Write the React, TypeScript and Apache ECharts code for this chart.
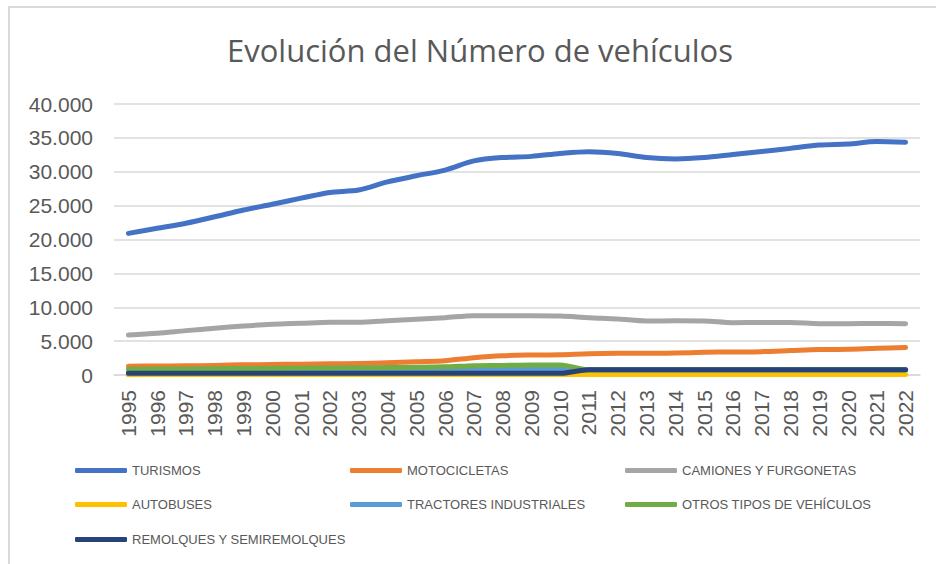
import React, { useEffect, useRef } from "react";
import * as echarts from "echarts";

const years = ["1995","1996","1997","1998","1999","2000","2001","2002","2003","2004","2005","2006","2007","2008","2009","2010","2011","2012","2013","2014","2015","2016","2017","2018","2019","2020","2021","2022"];
const yTicks = [0, 5000, 10000, 15000, 20000, 25000, 30000, 35000, 40000];

const turismos = [20900, 21650, 22400, 23350, 24350, 25200, 26100, 26950, 27300, 28500, 29400, 30250, 31600, 32100, 32270, 32700, 32950, 32700, 32100, 31900, 32100, 32550, 33000, 33450, 33950, 34100, 34450, 34350];
const motocicletas = [1300, 1320, 1350, 1420, 1500, 1550, 1600, 1650, 1700, 1800, 1950, 2100, 2550, 2850, 2950, 3000, 3150, 3200, 3200, 3250, 3350, 3400, 3450, 3600, 3750, 3800, 3950, 4050];
const camiones = [5900, 6150, 6550, 6900, 7230, 7480, 7630, 7780, 7780, 8020, 8220, 8460, 8760, 8760, 8760, 8710, 8460, 8270, 7970, 7990, 7970, 7720, 7750, 7750, 7570, 7570, 7600, 7570];
const autobuses = [55, 56, 57, 58, 58, 59, 60, 60, 60, 61, 62, 62, 63, 63, 62, 62, 61, 61, 60, 60, 60, 61, 62, 62, 63, 60, 60, 61];
const tractores = [450, 470, 490, 510, 530, 550, 570, 590, 600, 620, 650, 690, 760, 820, 850, 850, 770, 770, 770, 770, 770, 770, 770, 770, 770, 770, 770, 770];
const otros = [840, 870, 900, 930, 960, 990, 1020, 1050, 1070, 1100, 1130, 1200, 1380, 1420, 1480, 1480, 760, 760, 760, 760, 760, 760, 760, 760, 760, 760, 760, 760];
const remolques = [250, 250, 250, 250, 250, 250, 250, 250, 250, 250, 250, 250, 250, 250, 250, 250, 780, 780, 780, 780, 780, 780, 780, 780, 780, 780, 780, 780];

const seriesNames = ["TURISMOS", "MOTOCICLETAS", "CAMIONES Y FURGONETAS", "AUTOBUSES", "TRACTORES INDUSTRIALES", "OTROS TIPOS DE VEHÍCULOS", "REMOLQUES Y SEMIREMOLQUES"];
const seriesData = [turismos, motocicletas, camiones, autobuses, tractores, otros, remolques];
const colors = ["#4472C4", "#ED7D31", "#A5A5A5", "#FFC000", "#5B9BD5", "#70AD47", "#264478"];

const fmt = (v: number) => {
  if (v === 0) return "0";
  const s = String(Math.round(v));
  return s.replace(/\B(?=(\d{3})+(?!\d))/g, ".");
};

const FONT = "'Liberation Sans', Arial, sans-serif";
const TEXT = "#595959";
const legendCols = [75, 350, 625];
const legendRows = [464, 498, 533];

export default function App() {
  const ref = useRef<HTMLDivElement>(null);
  useEffect(() => {
    if (!ref.current) return;
    const chart = echarts.init(ref.current, null, { renderer: "svg" });
    const legends = seriesNames.map((name, i) => ({
      show: true,
      data: [name],
      left: legendCols[i % 3],
      top: legendRows[Math.floor(i / 3)],
      orient: "horizontal",
      icon: "roundRect",
      itemWidth: 52,
      itemHeight: 5,
      itemGap: 0,
      padding: 0,
      selectedMode: false,
      textStyle: { color: TEXT, fontSize: 13, fontFamily: FONT },
    }));
    chart.setOption({
      animation: false,
      backgroundColor: "#ffffff",
      color: colors,
      title: {
        text: "Evolución del Número de vehículos",
        left: 222,
        top: 29,
        textStyle: { color: TEXT, fontSize: 31, fontWeight: "normal", fontFamily: "'Open Sans', 'Liberation Sans', sans-serif" },
      },
      graphic: [
        {
          type: "rect",
          shape: { x: 9, y: 7, width: 1000, height: 1000 },
          style: { fill: "none", stroke: "#d9d9d9", lineWidth: 2 },
          silent: true,
        },
      ],
      legend: legends,
      grid: { left: 114, right: 16, top: 104, bottom: 189, containLabel: false },
      xAxis: {
        type: "category",
        data: years,
        boundaryGap: true,
        axisLine: { show: true, lineStyle: { color: "#d9d9d9", width: 1.5 } },
        axisTick: { show: false },
        axisLabel: { rotate: 90, interval: 0, margin: 15, color: TEXT, fontSize: 21, fontFamily: FONT },
      },
      yAxis: {
        type: "value",
        min: yTicks[0],
        max: yTicks[yTicks.length - 1],
        interval: 5000,
        axisLine: { show: false },
        axisTick: { show: false },
        splitLine: { lineStyle: { color: "#d9d9d9", width: 1.5 } },
        axisLabel: { margin: 21, color: TEXT, fontSize: 21, fontFamily: FONT, formatter: (v: number) => fmt(v) },
      },
      series: seriesNames.map((name, i) => ({
        name,
        type: "line",
        data: seriesData[i],
        smooth: 0.3,
        symbol: "none",
        lineStyle: { width: 5, color: colors[i], cap: "round", join: "round" },
        itemStyle: { color: colors[i] },
      })),
    });
    return () => chart.dispose();
  }, []);
  return <div ref={ref} style={{ position: "fixed", left: 0, top: 0, width: 936, height: 564 }} />;
}
